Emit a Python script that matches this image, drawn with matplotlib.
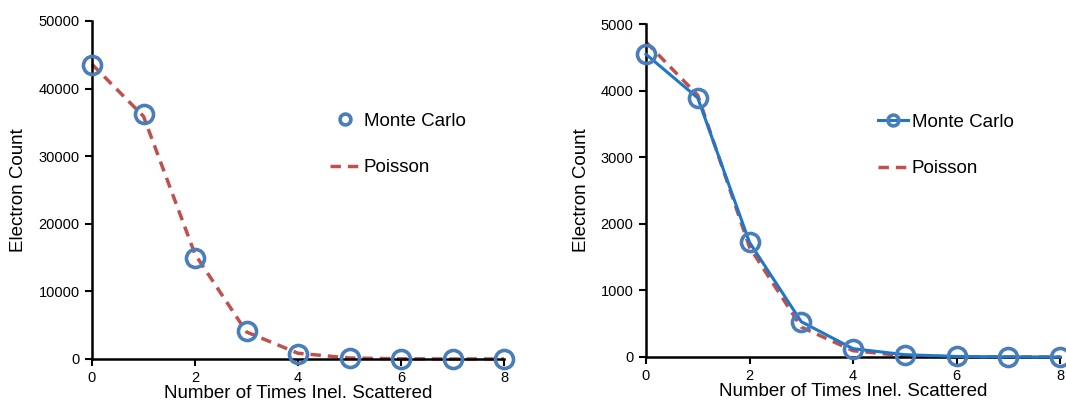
import matplotlib
matplotlib.use("Agg")
import matplotlib.pyplot as plt

plt.rcParams['font.family'] = ['Liberation Sans', 'DejaVu Sans']

x_vals = [0, 1, 2, 3, 4, 5, 6, 7, 8]

# Left panel
left_mc = [43500, 36300, 15000, 4100, 750, 120, 20, 3, 0]
left_poisson = [43600, 35900, 15500, 4000, 850, 150, 25, 3, 0]
left_yticks = [0, 10000, 20000, 30000, 40000, 50000]

# Right panel
right_mc = [4545, 3890, 1722, 530, 125, 35, 8, 2, 0]
right_poisson = [4730, 3930, 1650, 450, 95, 18, 3, 1, 0]
right_yticks = [0, 1000, 2000, 3000, 4000, 5000]

xticks = [0, 2, 4, 6, 8]

W, H = 1066, 405
fig = plt.figure(figsize=(W / 100, H / 100), dpi=100)

blue_marker = '#4a7ebb'
blue_line = '#1f77c8'
red = '#c0504d'


def style_axes(ax, ymax, yticks):
    ax.set_xlim(0, 8)
    ax.set_ylim(0, ymax)
    ax.set_xticks(xticks)
    ax.set_yticks(yticks)
    ax.spines['top'].set_visible(False)
    ax.spines['right'].set_visible(False)
    ax.spines['left'].set_linewidth(1.8)
    ax.spines['bottom'].set_linewidth(1.8)
    ax.tick_params(axis='both', direction='out', length=5, width=1.5,
                   labelsize=10.5, colors='black', pad=4)
    ax.set_xlabel('Number of Times Inel. Scattered', fontsize=13.5, labelpad=0)
    ax.set_ylabel('Electron Count', fontsize=13.5, labelpad=8)


# Left axes
ax1 = fig.add_axes([92 / W, (H - 359) / H, 412 / W, 338 / H])
ax1.plot(x_vals, left_poisson, linestyle='--', color=red, lw=2.5,
         dashes=(3, 2), label='Poisson', zorder=2, clip_on=False)
ax1.plot(x_vals, left_mc, linestyle='none', marker='o', markersize=13,
         markerfacecolor='none', markeredgecolor=blue_marker, markeredgewidth=2.6,
         label='Monte Carlo', zorder=3, clip_on=False)
style_axes(ax1, 50000, left_yticks)
h, l = ax1.get_legend_handles_labels()
ax1.legend(h[::-1], l[::-1], loc='upper left',
           bbox_to_anchor=(313 / W, (H - 96) / H),
           bbox_transform=fig.transFigure, frameon=False,
           fontsize=13.5, handlelength=1.6, handletextpad=0.2,
           labelspacing=1.55, markerscale=0.6)

# Right axes
ax2 = fig.add_axes([646 / W, (H - 357) / H, 414 / W, 333 / H])
ax2.plot(x_vals, right_mc, linestyle='-', color=blue_line, lw=2.2,
         marker='o', markersize=13, markerfacecolor='none',
         markeredgecolor=blue_marker, markeredgewidth=2.6,
         label='Monte Carlo', zorder=3, clip_on=False)
ax2.plot(x_vals, right_poisson, linestyle='--', color=red, lw=2.5,
         dashes=(3, 2), label='Poisson', zorder=2, clip_on=False)
style_axes(ax2, 5000, right_yticks)
ax2.legend(loc='upper left', bbox_to_anchor=(861 / W, (H - 97) / H),
           bbox_transform=fig.transFigure, frameon=False,
           fontsize=13.5, handlelength=1.6, handletextpad=0.2,
           labelspacing=1.55, markerscale=0.6)

fig.savefig('out.png', dpi=100)
